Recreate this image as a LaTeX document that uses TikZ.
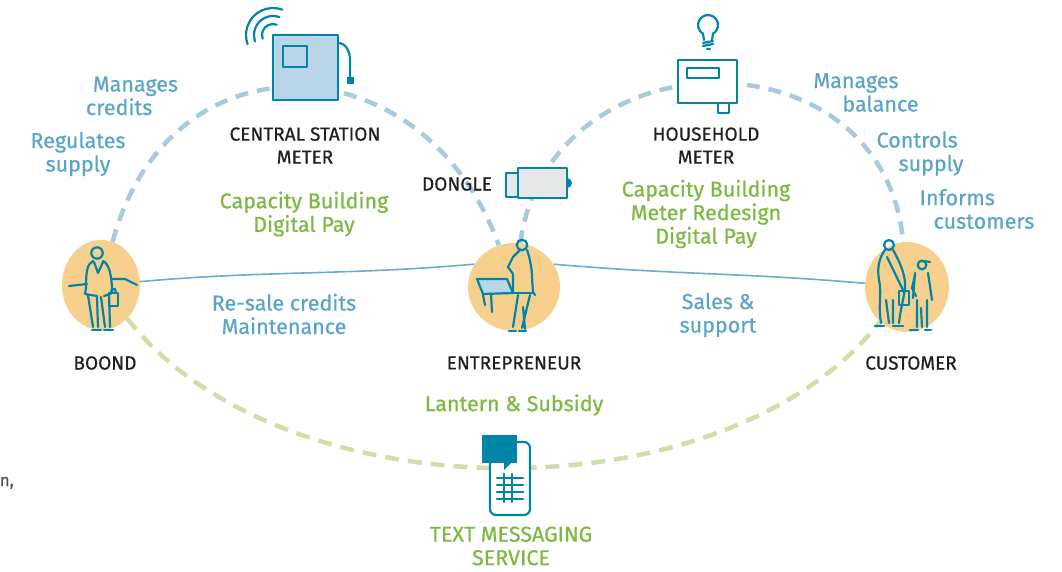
\documentclass[tikz,border=0pt]{standalone}
\usepackage{fontspec}
\setmainfont{Fira Sans}[FakeBold=0.6]
\usetikzlibrary{shapes.geometric,backgrounds}

\definecolor{inkteal}{HTML}{0085A8}
\definecolor{roleblue}{HTML}{5AA5C5}
\definecolor{flowblue}{HTML}{6AAEC8}
\definecolor{dashblue}{HTML}{A7CADD}
\definecolor{dashgreen}{HTML}{CFDFA8}
\definecolor{offergreen}{HTML}{7DB843}
\definecolor{peach}{HTML}{F6D08C}
\definecolor{meterblue}{HTML}{B9D6E9}
\definecolor{donglegrey}{HTML}{E6E7E8}
\definecolor{titleblack}{HTML}{231F20}

\tikzset{
  blob/.style={ellipse, fill=peach, inner sep=0pt},
  actorlabel/.style={font=\fontsize{19}{23}\selectfont, text=titleblack, align=center, inner sep=0pt},
  role/.style={font=\fontsize{21.5}{23.5}\selectfont, text=roleblue, inner sep=0pt},
  offer/.style={font=\fontsize{21.5}{23.5}\selectfont, text=offergreen, align=center, inner sep=0pt},
  ink/.style={draw=inkteal, line width=2.2pt, line cap=round, line join=round},
  meterlink/.style={draw=dashblue, line width=4.5pt, dash pattern=on 13pt off 9pt},
  smslink/.style={draw=dashgreen, line width=4.5pt, dash pattern=on 14pt off 9pt},
  saleslink/.style={draw=flowblue, line width=1.6pt},
}

\begin{document}
\begin{tikzpicture}[x=1pt, y=1pt]
  \useasboundingbox (0,0) rectangle (1062,-572);

  \node[blob, minimum width=78pt, minimum height=90pt] (boond) at (101,-285) {};
  \node[blob, minimum width=92pt, minimum height=88pt] (entre) at (514,-287) {};
  \node[blob, minimum width=84pt, minimum height=90pt] (cust)  at (907,-287) {};

  \begin{scope}[on background layer]
    \draw[meterlink] (boond) to[out=75, in=110, looseness=1.45] (entre);
    \draw[meterlink] (entre) to[out=82, in=95, looseness=1.43] (cust);
    \draw[saleslink] (boond) to[out=5, in=185] (entre.150);
    \draw[saleslink] (entre.30) to[out=-5, in=175] (cust);
    \draw[smslink] (boond) to[out=-52, in=-128, looseness=0.85] (cust);
  \end{scope}

  % central station meter
  \foreach \r in {11,19,27}
    \draw[ink] (273,-35) ++(70:\r) arc[start angle=70, end angle=200, radius=\r];
  \draw[ink, fill=meterblue] (273,-35) rectangle (338,-100);
  \draw[ink] (283,-46) rectangle (307,-67);
  \draw[ink] (338,-43) to[out=0, in=90] (350,-60) -- (350,-78);
  \fill[inkteal] (347,-77) rectangle (354,-84);

  % household meter
  \draw[ink] (704,-40) -- (703,-33.7) arc[start angle=240, end angle=-60, radius=10] -- (712,-40);
  \draw[ink] (703,-43) -- (713,-41) (703,-46) -- (713,-44) (707,-49) -- (710,-49);
  \draw[ink, fill=white] (678,-60) rectangle (737,-103);
  \draw[ink] (687,-68) rectangle (719,-78);
  \draw[ink, fill=white] (718,-103) rectangle (729,-113);

  % dongle
  \draw[ink, fill=donglegrey] (506,-173) rectangle (518,-197);
  \draw[ink, fill=donglegrey] (518,-168) rectangle (567,-198);
  \fill[inkteal] (567,-178) arc[start angle=90, end angle=-90, radius=5];

  % phone
  \draw[ink, fill=white, rounded corners=6pt] (490,-442) rectangle (530,-515);
  \fill[inkteal] (482,-435) rectangle (517,-463);
  \fill[inkteal] (504,-462) -- (512,-462) -- (504,-470) -- cycle;
  \foreach \y in {478,485,492,499}
    \draw[ink] (497,-\y) -- (523,-\y);
  \foreach \x in {504,512}
    \draw[ink] (\x,-474) -- (\x,-502);

  % boond figure
  \draw[ink] (97,-253) circle[radius=5.7];
  \draw[ink] (93,-261) .. controls (87,-264) and (86,-272) .. (86,-288) -- (85,-294) -- (97,-296);
  \draw[ink] (103,-261) .. controls (109,-264) and (112,-275) .. (112,-293) -- (104,-296);
  \draw[ink] (94,-262) -- (98,-273) -- (103,-262);
  \draw[ink] (88,-295) -- (93,-327) (97,-297) -- (98,-327) (101,-297) -- (105,-327) (109,-294) -- (110,-327);
  \draw[ink] (92,-330) -- (101,-330) (104,-330) -- (113,-330);
  \draw[ink] (69,-286) -- (87,-284) (112,-279) -- (125,-279) -- (137,-285);
  \draw[ink] (109,-293) rectangle (118,-306);
  \draw[ink] (111,-293) -- (112,-289) -- (115,-289) -- (116,-293);

  % entrepreneur figure
  \draw[ink, fill=meterblue] (477,-279) -- (507,-279) -- (513,-293) -- (483,-294) -- cycle;
  \draw[ink] (483,-295) -- (485,-305) (491,-294) -- (492,-312);
  \draw[ink] (522,-245) circle[radius=5.3];
  \draw[ink] (519,-251) -- (513,-257) -- (508,-267) -- (513,-274) (513,-275) -- (513,-293);
  \draw[ink] (527,-250) .. controls (530,-258) and (532,-270) .. (532,-277) -- (533,-292) -- (535,-295);
  \draw[ink] (513,-293) -- (533,-293);
  \draw[ink] (518,-295) -- (513,-327) (530,-295) -- (522,-328) (523,-307) -- (525,-329);
  \draw[ink] (509,-331) -- (516,-331) (519,-331) -- (526,-331);

  % customer figures
  \draw[ink] (889,-245) circle[radius=5];
  \draw[ink] (885,-250) .. controls (879,-258) and (877,-268) .. (879,-280)
    .. controls (882,-292) and (878,-305) .. (881,-323);
  \draw[ink] (893,-250) .. controls (900,-262) and (906,-276) .. (905,-288)
    .. controls (903,-302) and (900,-312) .. (899,-323);
  \draw[ink] (887,-257) -- (903,-290);
  \draw[ink] (886,-300) -- (889,-323) (893,-300) -- (893,-323);
  \draw[ink] (899,-291) rectangle (909,-305);
  \draw[ink] (875,-326) -- (884,-326) (893,-326) -- (903,-326);
  \draw[ink] (922,-265) circle[radius=4.3];
  \draw[ink] (924,-261) -- (930,-262);
  \draw[ink] (915,-273) -- (913,-298) (928,-273) -- (932,-300);
  \draw[ink] (915,-275) -- (912,-288) -- (916,-296);
  \draw[ink] (917,-300) -- (917,-327) (927,-300) -- (927,-327) (921,-308) -- (922,-327);
  \draw[ink] (910,-330) -- (918,-330) (925,-330) -- (931,-330);

  \begin{scope}[every node/.style={actorlabel}]
    \node (lblcentral) at (305,-145.5) {CENTRAL STATION\\METER};
    \node (lblhouse)   at (706,-145.5) {HOUSEHOLD\\METER};
    \node (lbldongle)  at (457,-184)   {DONGLE};
    \node (lblboond)   at (105,-363)   {BOOND};
    \node (lblentre)   at (514,-363)   {ENTREPRENEUR};
    \node (lblcust)    at (911,-363)   {CUSTOMER};
  \end{scope}

  \begin{scope}[every node/.style={role}]
    \node[align=left]   (rolecredits) at (132,-96)   {\hspace*{7pt}Manages\\credits};
    \node[align=center] (rolesupply)  at (78,-154)   {Regulates\\supply};
    \node[align=left]   (rolebalance) at (866,-92.5) {Manages\\\hspace*{29pt}balance};
    \node[align=left]   (rolecontrol) at (920,-153.5) {Controls\\\hspace*{22pt}supply};
    \node[align=left]   (roleinform)  at (977,-209)  {Informs\\\hspace*{14pt}customers};
    \node[align=center] (roleresale)  at (284,-314)  {Re-sale credits\\Maintenance};
    \node[align=center] (rolesales)   at (718,-315)  {Sales \&\\support};
  \end{scope}

  \begin{scope}[every node/.style={offer}]
    \node (offercentral) at (304,-214) {Capacity Building\\Digital Pay};
    \node (offerhouse)   at (706,-214) {Capacity Building\\Meter Redesign\\Digital Pay};
    \node (offerlantern) at (514,-405) {Lantern \& Subsidy};
    \node (offersms)     at (511,-546) {TEXT MESSAGING\\SERVICE};
  \end{scope}

  \node[anchor=base east, inner sep=0pt, font=\fontsize{17}{20}\selectfont, text=titleblack!80] (cut) at (14,-486) {n,};
\end{tikzpicture}
\end{document}
